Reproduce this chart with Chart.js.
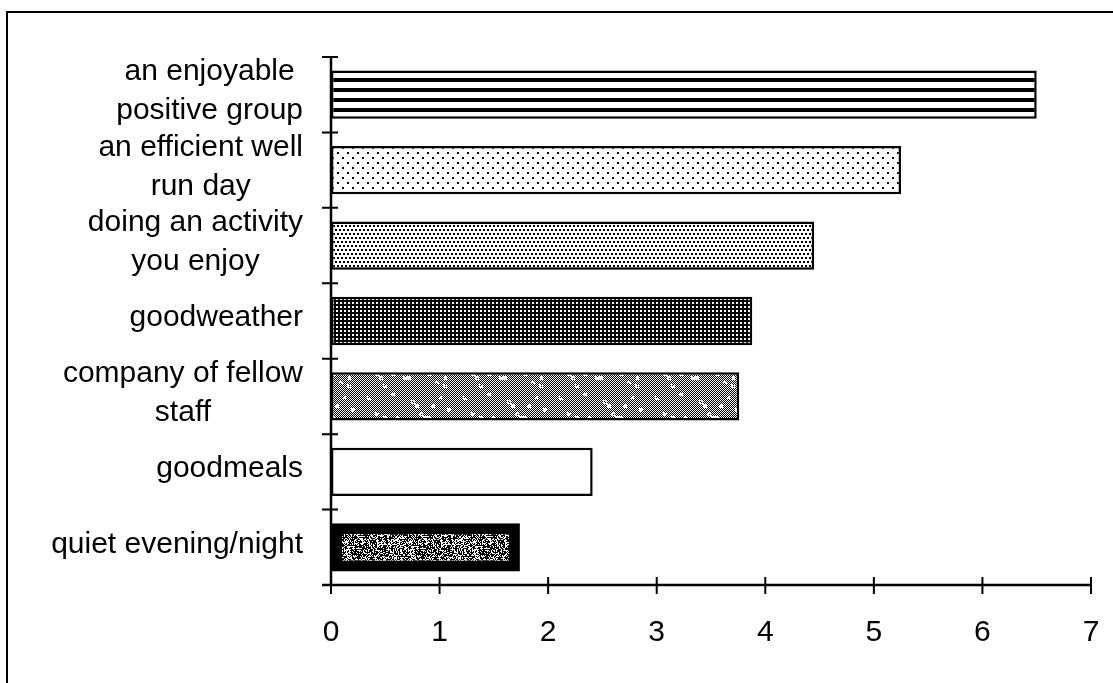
<!DOCTYPE html>
<html>
<head>
<meta charset="utf-8">
<title>What makes a good day</title>
<script src="https://cdn.jsdelivr.net/npm/chart.js@4.4.1/dist/chart.umd.min.js"></script>
<style>
  html, body { margin: 0; padding: 0; background: #fff; }
  canvas { display: block; }
</style>
</head>
<body>
<canvas id="c" width="1113" height="683"></canvas>
<script>
// Categories (multi-line labels), top to bottom
const categories = [
  ['an enjoyable', 'positive group'],
  ['an efficient well', 'run day'],
  ['doing an activity', 'you enjoy'],
  ['goodweather'],
  ['company of fellow', 'staff'],
  ['goodmeals'],
  ['quiet evening/night']
];
// Mean score per category
const scores = [6.5, 5.25, 4.45, 3.88, 3.76, 2.41, 1.74];
// Value-axis tick labels
const xTicks = [0, 1, 2, 3, 4, 5, 6, 7];

const FONT = '"Liberation Sans", Arial, Helvetica, sans-serif';
const canvas = document.getElementById('c');
const baseCtx = canvas.getContext('2d');

// ---- monochrome fill textures ----
function makeTile(w, h, paint) {
  const t = document.createElement('canvas');
  t.width = w; t.height = h;
  const g = t.getContext('2d');
  paint(g, w, h);
  return baseCtx.createPattern(t, 'repeat');
}
function hash(x, y, s) {
  let h = (Math.imul(x, 374761393) + Math.imul(y, 668265263) + Math.imul(s, 1442695041)) | 0;
  h = Math.imul(h ^ (h >>> 13), 1274126177);
  h ^= h >>> 16;
  return (h >>> 0) / 4294967296;
}

const stripes = makeTile(8, 10, (g, w) => {
  g.fillStyle = '#fff'; g.fillRect(0, 0, w, 10);
  g.fillStyle = '#000'; g.fillRect(0, 0, w, 4);
});
const sparseDots = makeTile(10, 10, g => {
  g.fillStyle = '#fff'; g.fillRect(0, 0, 10, 10);
  g.fillStyle = '#000'; g.fillRect(1, 1, 2, 2); g.fillRect(6, 6, 2, 2);
});
const denseDots = makeTile(8, 8, g => {
  g.fillStyle = '#fff'; g.fillRect(0, 0, 8, 8);
  g.fillStyle = '#000';
  g.fillRect(0, 0, 2, 2); g.fillRect(4, 0, 2, 2);
  g.fillRect(2, 4, 2, 2); g.fillRect(6, 4, 2, 2);
});
const darkDots = makeTile(4, 4, g => {
  g.fillStyle = '#000'; g.fillRect(0, 0, 4, 4);
  g.fillStyle = '#fff'; g.fillRect(1, 1, 2, 2);
});
// fine checker with scattered white flecks
const flecked = makeTile(96, 48, (g, w, h) => {
  g.fillStyle = '#fff'; g.fillRect(0, 0, w, h);
  g.fillStyle = '#000';
  for (let y = 0; y < h; y++) for (let x = 0; x < w; x++) if ((x + y) % 2 === 0) g.fillRect(x, y, 1, 1);
  g.fillStyle = '#fff';
  for (let y = 0; y < h; y++) for (let x = 0; x < w; x++) {
    if (hash(x >> 2, y >> 2, 3) < 0.10 && hash(x, y, 5) < 0.75) g.fillRect(x, y, 1, 1);
  }
});
const speckle = makeTile(64, 32, (g, w, h) => {
  g.fillStyle = '#000'; g.fillRect(0, 0, w, h);
  g.fillStyle = '#fff';
  for (let y = 0; y < h; y++) for (let x = 0; x < w; x++) if (hash(x, y, 7) < 0.42) g.fillRect(x, y, 1, 1);
});
const white = '#ffffff';

const fills = [stripes, sparseDots, denseDots, darkDots, flecked, white, speckle];
const borders = [2.5, 2.5, 2.5, 2.5, 2.5, 2.5, 11];

// Anchor each texture to its own bar so stripes/dots start at the bar edge
const anchorPatterns = {
  id: 'anchorPatterns',
  beforeDatasetsDraw(chart) {
    const meta = chart.getDatasetMeta(0);
    meta.data.forEach((el, i) => {
      const p = fills[i];
      if (p && typeof p !== 'string' && p.setTransform) {
        const top = el.y - el.height / 2;
        const off = i === 0 ? 7 : 0;
        p.setTransform(new DOMMatrix([1, 0, 0, 1, Math.round(el.base), Math.round(top + off)]));
      }
    });
  }
};

// Page frame, axes with crossing tick marks, and centred multi-line category labels
const decorations = {
  id: 'decorations',
  beforeDraw(chart) {
    const ctx = chart.ctx;
    ctx.save();
    ctx.fillStyle = '#fff';
    ctx.fillRect(0, 0, chart.width, chart.height);
    ctx.strokeStyle = '#000';
    ctx.lineWidth = 2;
    ctx.beginPath();
    ctx.moveTo(chart.width, 12); ctx.lineTo(7, 12); ctx.lineTo(7, chart.height);
    ctx.stroke();
    ctx.restore();
  },
  afterDatasetsDraw(chart) {
    const ctx = chart.ctx;
    const xs = chart.scales.x, ys = chart.scales.y;
    const x0 = xs.getPixelForValue(0);
    const xEnd = xs.getPixelForValue(xTicks[xTicks.length - 1]);
    const yTop = ys.getPixelForValue(-0.5);
    const yBot = ys.getPixelForValue(categories.length - 0.5);
    ctx.save();
    ctx.strokeStyle = '#000';
    ctx.lineCap = 'butt';
    ctx.lineWidth = 2.5;
    ctx.beginPath();
    ctx.moveTo(x0, yTop); ctx.lineTo(x0, yBot);
    ctx.moveTo(x0 - 9, yBot); ctx.lineTo(xEnd, yBot);
    ctx.stroke();
    ctx.lineWidth = 2;
    ctx.beginPath();
    for (let i = 0; i <= categories.length; i++) {
      const py = ys.getPixelForValue(i - 0.5);
      ctx.moveTo(x0 - 9, py); ctx.lineTo(x0 + 7, py);
    }
    xTicks.forEach(v => {
      const px = xs.getPixelForValue(v);
      ctx.moveTo(px, yBot - 8); ctx.lineTo(px, yBot + 9);
    });
    ctx.stroke();
    ctx.restore();
  },
  afterDraw(chart) {
    const ctx = chart.ctx, ys = chart.scales.y;
    const right = chart.scales.x.getPixelForValue(0) - 28;
    ctx.save();
    ctx.font = '30px ' + FONT;
    ctx.fillStyle = '#000';
    ctx.textAlign = 'center';
    ctx.textBaseline = 'middle';
    categories.forEach((lines, i) => {
      const w = Math.max(...lines.map(t => ctx.measureText(t).width));
      const cx = right - w / 2;
      const cy = ys.getPixelForValue(i) - 3;
      lines.forEach((t, k) => ctx.fillText(t, cx, cy + (k - (lines.length - 1) / 2) * 39));
    });
    ctx.restore();
  }
};

new Chart(canvas, {
  type: 'bar',
  data: {
    labels: categories,
    datasets: [{
      data: scores,
      backgroundColor: fills,
      borderColor: '#000',
      borderWidth: borders,
      borderSkipped: false,
      barPercentage: 0.64,
      categoryPercentage: 1.0
    }]
  },
  options: {
    indexAxis: 'y',
    responsive: false,
    animation: false,
    devicePixelRatio: 1,
    layout: { padding: { top: 57, right: 22, bottom: 0, left: 0 } },
    plugins: { legend: { display: false }, tooltip: { enabled: false } },
    scales: {
      y: {
        type: 'category',
        offset: true,
        grid: { display: false, drawTicks: false },
        border: { display: false },
        ticks: { display: false },
        afterFit(s) { s.width = 331; s.paddingTop = 0; s.paddingBottom = 0; }
      },
      x: {
        type: 'linear',
        min: xTicks[0],
        max: xTicks[xTicks.length - 1],
        afterBuildTicks(s) { s.ticks = xTicks.map(v => ({ value: v })); },
        grid: { display: false, drawTicks: false },
        border: { display: false },
        ticks: {
          color: '#000',
          font: { family: FONT, size: 30 },
          padding: 30,
          maxRotation: 0,
          callback: v => String(v)
        },
        afterFit(s) { s.height = 98; s.paddingLeft = 0; s.paddingRight = 0; }
      }
    }
  },
  plugins: [anchorPatterns, decorations]
});
</script>
</body>
</html>
